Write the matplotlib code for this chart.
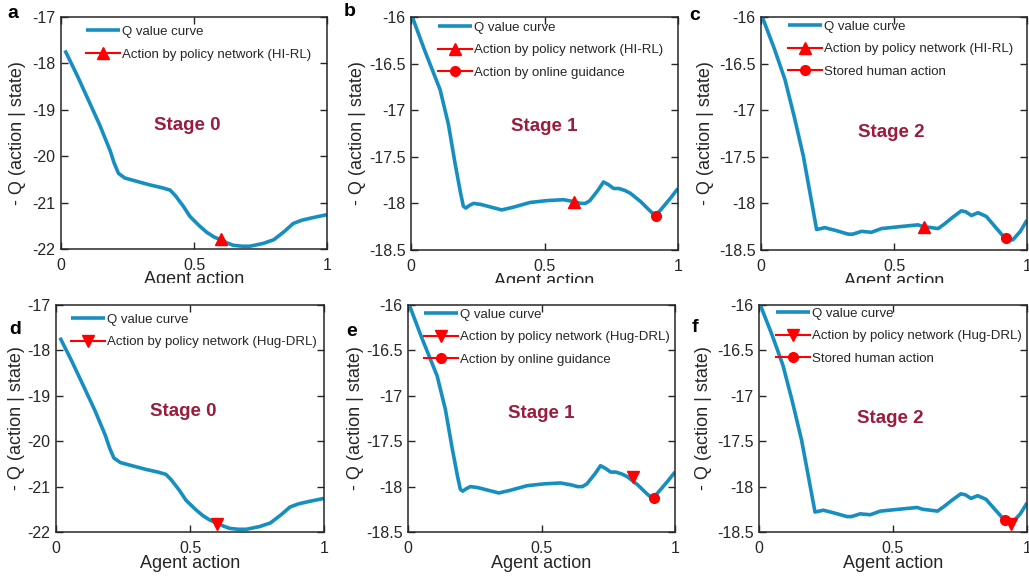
import matplotlib
matplotlib.use("Agg")
import matplotlib.pyplot as plt
from matplotlib.ticker import FuncFormatter
from matplotlib.transforms import Bbox, TransformedBbox

plt.rcParams['font.family'] = ['Liberation Sans', 'DejaVu Sans']

# ---------------- data ----------------
# Stage 0 Q curve (panels a, d)
s0_x = [0.015, 0.06, 0.103, 0.145, 0.184, 0.200, 0.216, 0.240, 0.29, 0.335, 0.38, 0.41, 0.43,
        0.46, 0.485, 0.52, 0.548, 0.575, 0.60, 0.625, 0.648, 0.68, 0.71, 0.76, 0.80, 0.84,
        0.873, 0.905, 0.95, 1.0]
s0_y = [-17.72, -18.25, -18.79, -19.32, -19.87, -20.15, -20.37, -20.47, -20.55, -20.62,
        -20.68, -20.73, -20.85, -21.08, -21.30, -21.50, -21.64, -21.74, -21.80, -21.87,
        -21.92, -21.94, -21.94, -21.88, -21.80, -21.62, -21.45, -21.38, -21.32, -21.26]

# Stage 1 Q curve (panels b, e)
s1_x = [0.005, 0.05, 0.109, 0.14, 0.165, 0.185, 0.196, 0.205, 0.22, 0.234, 0.26, 0.30, 0.34,
        0.384, 0.446, 0.509, 0.571, 0.609, 0.635, 0.653, 0.67, 0.70, 0.721, 0.74, 0.759, 0.778,
        0.80, 0.821, 0.86, 0.895, 0.915, 0.935, 0.97, 1.0]
s1_y = [-16.0, -16.35, -16.78, -17.15, -17.57, -17.88, -18.03, -18.05, -18.02, -18.00,
        -18.01, -18.04, -18.07, -18.04, -17.99, -17.97, -17.96, -17.98, -18.00, -18.00,
        -17.97, -17.86, -17.77, -17.80, -17.84, -17.84, -17.86, -17.89, -17.98, -18.08,
        -18.13, -18.07, -17.95, -17.84]

# Stage 2 Q curve (panels c, f)
s2_x = [0.005, 0.05, 0.09, 0.125, 0.159, 0.185, 0.209, 0.225, 0.24, 0.28, 0.328, 0.345, 0.378,
        0.415, 0.453, 0.52, 0.59, 0.611, 0.64, 0.666, 0.69, 0.72, 0.753, 0.77, 0.791, 0.816,
        0.847, 0.88, 0.916, 0.93, 0.947, 0.975, 1.0]
s2_y = [-16.0, -16.34, -16.67, -17.07, -17.49, -17.90, -18.28, -18.27, -18.26, -18.29,
        -18.33, -18.33, -18.30, -18.31, -18.27, -18.25, -18.23, -18.25, -18.26, -18.27,
        -18.22, -18.15, -18.08, -18.09, -18.13, -18.10, -18.14, -18.25, -18.37, -18.39,
        -18.39, -18.30, -18.18]

# markers: (x, y)
a_policy = (0.600, -21.78)
d_policy = (0.600, -21.82)
b_policy = (0.611, -17.98)
b_guid = (0.919, -18.13)
c_policy = (0.611, -18.25)
c_human = (0.920, -18.37)
e_policy = (0.841, -17.89)
e_guid = (0.921, -18.13)
f_human = (0.917, -18.37)
f_policy = (0.939, -18.41)

panel_letters = ['a', 'b', 'c', 'd', 'e', 'f']
stage_names = ['Stage 0', 'Stage 1', 'Stage 2', 'Stage 0', 'Stage 1', 'Stage 2']
x_ticks = [0, 0.5, 1]
y_ticks_s0 = [-22, -21, -20, -19, -18, -17]
y_ticks_s12 = [-18.5, -18, -17.5, -17, -16.5, -16]

lbl_q = 'Q value curve'
lbl_hirl = 'Action by policy network (HI-RL)'
lbl_hug = 'Action by policy network (Hug-DRL)'
lbl_online = 'Action by online guidance'
lbl_stored = 'Stored human action'

# ---------------- style ----------------
W, H = 1029, 581
CURVE = '#168fc0'
STAGE_C = '#9b1c3c'
TXT = '#262626'

fig = plt.figure(figsize=(W / 100, H / 100), dpi=100)


def add_ax(l, t, r, b):
    return fig.add_axes([l / W, (H - b) / H, (r - l) / W, (b - t) / H])


boxes = [(61, 17, 327, 249), (411, 17, 678, 250), (761, 17, 1027, 250),
         (56, 305, 324, 532), (408, 305, 675, 532), (759, 305, 1027, 532)]
axes = [add_ax(*bx) for bx in boxes]

fmt = FuncFormatter(lambda v, p: ('%g' % v))


def style(ax, box, yticks, ylim, ylab_px):
    ax.set_xlim(0, 1)
    ax.set_ylim(*ylim)
    ax.set_xticks(x_ticks)
    ax.set_yticks(yticks)
    ax.xaxis.set_major_formatter(fmt)
    ax.yaxis.set_major_formatter(fmt)
    ax.tick_params(direction='in', top=True, right=True, length=5, width=1,
                   labelsize=11.5, colors=TXT, pad=4)
    ax.tick_params(axis='x', pad=6.5)
    for s in ax.spines.values():
        s.set_linewidth(1.1)
        s.set_color(TXT)
    ax.set_xlabel('Agent action', fontsize=13, color=TXT)
    ax.set_ylabel('- Q (action | state)', fontsize=13, color=TXT)
    l, t, r, b = box
    ax.yaxis.label.set_va('center')
    ax.yaxis.set_label_coords(-ylab_px / (r - l), 0.5)
    ax.xaxis.label.set_va('center')
    ax.xaxis.set_label_coords(0.5, -(31) / (b - t))


ylab_px = [43, 53, 55, 39, 53, 56]
for i, ax in enumerate(axes):
    if i % 3 == 0:
        style(ax, boxes[i], y_ticks_s0, (-22, -17), ylab_px[i])
    else:
        style(ax, boxes[i], y_ticks_s12, (-18.5, -16), ylab_px[i])

# clip top-row x labels as in the reference (image cropped)
clip = TransformedBbox(Bbox([[0, (H - 283) / H], [1, 1]]), fig.transFigure)
for ax in axes[:3]:
    ax.xaxis.label.set_clip_box(clip)
    ax.xaxis.label.set_clip_on(True)

curves = [(s0_x, s0_y), (s1_x, s1_y), (s2_x, s2_y)] * 2
for i, ax in enumerate(axes):
    cx, cy = curves[i]
    ax.plot(cx, cy, color=CURVE, lw=2.6, label=lbl_q, clip_on=True, solid_joinstyle='round',
            solid_capstyle='butt')

mk = dict(color='red', lw=1.5, ms=8, mec='red', mfc='red', clip_on=False)
axes[0].plot([a_policy[0]], [a_policy[1]], '-^', label=lbl_hirl, **mk)
axes[1].plot([b_policy[0]], [b_policy[1]], '-^', label=lbl_hirl, **mk)
axes[1].plot([b_guid[0]], [b_guid[1]], '-o', label=lbl_online, **dict(mk, ms=7))
axes[2].plot([c_policy[0]], [c_policy[1]], '-^', label=lbl_hirl, **mk)
axes[2].plot([c_human[0]], [c_human[1]], '-o', label=lbl_stored, **dict(mk, ms=7))
axes[3].plot([d_policy[0]], [d_policy[1]], '-v', label=lbl_hug, **mk)
axes[4].plot([e_policy[0]], [e_policy[1]], '-v', label=lbl_hug, **mk)
axes[4].plot([e_guid[0]], [e_guid[1]], '-o', label=lbl_online, **dict(mk, ms=7))
axes[5].plot([f_policy[0]], [f_policy[1]], '-v', label=lbl_hug, **mk)
axes[5].plot([f_human[0]], [f_human[1]], '-o', label=lbl_stored, **dict(mk, ms=7))

leg_anchor = [(0.094, 0.962), (0.101, 0.980), (0.102, 0.985),
              (0.056, 0.962), (0.060, 0.985), (0.063, 0.988)]
for i, ax in enumerate(axes):
    leg = ax.legend(loc='upper left', bbox_to_anchor=leg_anchor[i], frameon=False,
                    fontsize=9.5, borderpad=0, borderaxespad=0, handlelength=2.6,
                    handletextpad=0.15, labelspacing=0.78, numpoints=1)
    for t in leg.get_texts():
        t.set_color(TXT)

stage_pos = [(0.474, 0.534), (0.498, 0.528), (0.49, 0.506),
             (0.474, 0.529), (0.50, 0.524), (0.49, 0.50)]
for i, ax in enumerate(axes):
    ax.text(stage_pos[i][0], stage_pos[i][1], stage_names[i], transform=ax.transAxes,
            ha='center', va='center', fontsize=13.5, fontweight='bold', color=STAGE_C)

letter_pos = [(13, 14), (350, 12), (695, 15), (15, 330), (352, 332), (695, 328)]
for i, (px, py) in enumerate(letter_pos):
    fig.text(px / W, (H - py) / H, panel_letters[i], ha='center', va='center',
             fontsize=14, fontweight='bold', color='black')

fig.savefig('out.png', dpi=100)
